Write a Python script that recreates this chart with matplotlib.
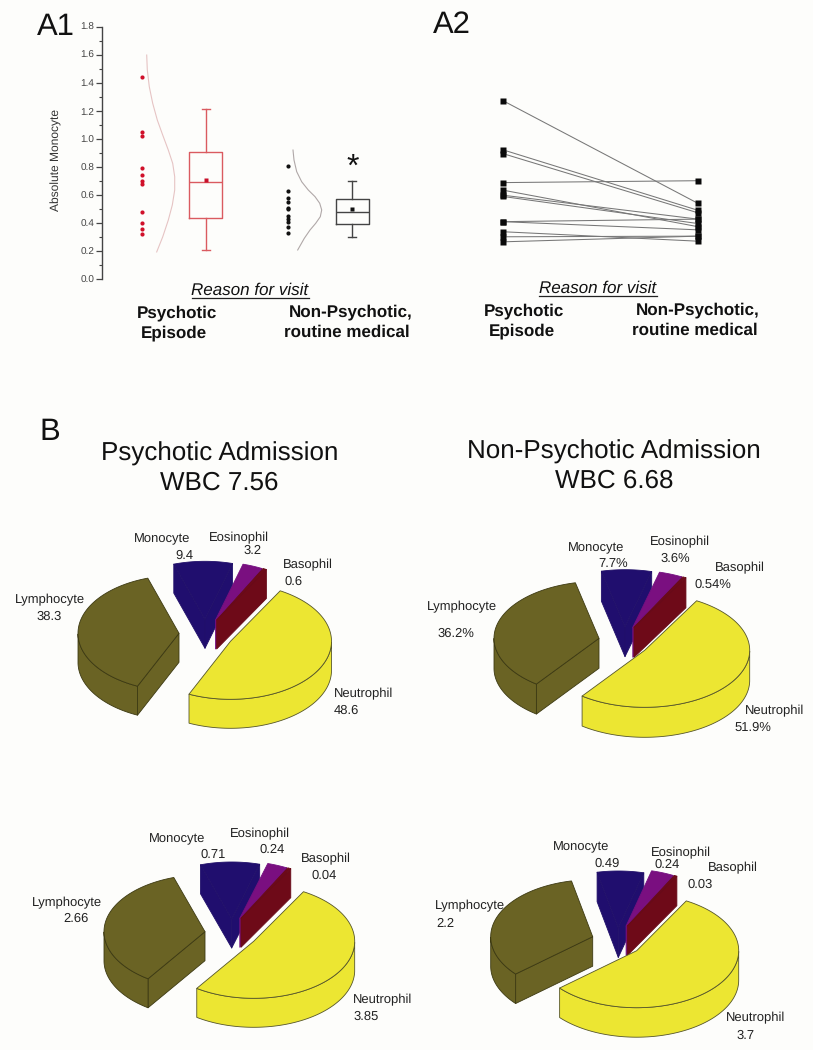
import numpy as np
import matplotlib
matplotlib.use("Agg")
import matplotlib.pyplot as plt
from matplotlib.patches import Polygon

plt.rcParams['font.family'] = ['Liberation Sans', 'DejaVu Sans']
plt.rcParams['text.hinting'] = 'no_hinting'
plt.rcParams['text.hinting_factor'] = 1

W, H = 813, 1050
BG = '#fdfdfb'

# ---------- data ----------
ytick_vals = [0.0, 0.2, 0.4, 0.6, 0.8, 1.0, 1.2, 1.4, 1.6, 1.8]
psych_points = [1.44, 1.05, 1.02, 0.79, 0.74, 0.70, 0.68, 0.48, 0.40, 0.36, 0.32]
nonpsych_points = [0.81, 0.63, 0.58, 0.55, 0.51, 0.50, 0.45, 0.43, 0.41, 0.37, 0.33]
psych_box = dict(whislo=0.21, q1=0.44, med=0.695, q3=0.91, whishi=1.21, mean=0.71, fliers=[])
nonpsych_box = dict(whislo=0.30, q1=0.395, med=0.48, q3=0.57, whishi=0.70, mean=0.50, fliers=[])
psych_curve_y = [1.598, 1.492, 1.372, 1.254, 1.135, 1.028, 0.921, 0.826, 0.731, 0.636, 0.529, 0.422, 0.302, 0.195]
psych_curve_x = [146.7, 147.3, 149.3, 152.7, 157.3, 162.7, 168.3, 172.7, 174.7, 174.7, 172.3, 168.3, 162.7, 156.7]
nonpsych_curve_y = [0.921, 0.850, 0.767, 0.695, 0.636, 0.589, 0.542, 0.494, 0.446, 0.399, 0.351, 0.292, 0.209]
nonpsych_curve_x = [293, 294, 296.7, 301.7, 308.3, 315, 319.7, 321.7, 320.3, 315.7, 310, 304.3, 297.7]

paired_psych = [1.44, 1.05, 1.02, 0.79, 0.73, 0.69, 0.68, 0.48, 0.48, 0.40, 0.36, 0.32]
paired_nonpsych = [0.625, 0.57, 0.55, 0.805, 0.44, 0.50, 0.465, 0.50, 0.415, 0.325, 0.365, 0.365]

cell_names = ['Neutrophil', 'Lymphocyte', 'Monocyte', 'Eosinophil', 'Basophil']
pct_psych = [48.6, 38.3, 9.4, 3.2, 0.6]
pct_nonpsych = [51.9, 36.2, 7.7, 3.6, 0.54]
abs_psych = [3.85, 2.66, 0.71, 0.24, 0.04]
abs_nonpsych = [3.7, 2.2, 0.49, 0.24, 0.03]
lab_pct_psych = ['48.6', '38.3', '9.4', '3.2', '0.6']
lab_pct_nonpsych = ['51.9%', '36.2%', '7.7%', '3.6%', '0.54%']
lab_abs_psych = ['3.85', '2.66', '0.71', '0.24', '0.04']
lab_abs_nonpsych = ['3.7', '2.2', '0.49', '0.24', '0.03']

# ---------- styles ----------
slice_colors = {'Neutrophil': '#ece632', 'Lymphocyte': '#6a6324', 'Monocyte': '#200e6e',
                'Eosinophil': '#7a0f80', 'Basophil': '#6e0a18'}
edge_colors = {'Neutrophil': '#55552a', 'Lymphocyte': '#3c3912', 'Monocyte': '#21106a',
               'Eosinophil': '#741080', 'Basophil': '#680a18'}
TXT = '#222222'

fig = plt.figure(figsize=(W / 100, H / 100), dpi=100, facecolor=BG)


def px_axes(x0, y0, x1, y1, **kw):
    return fig.add_axes([x0 / W, 1 - y1 / H, (x1 - x0) / W, (y1 - y0) / H], **kw)


# overlay in pixel coordinates for annotations and pies
ov = fig.add_axes([0, 0, 1, 1])
ov.set_xlim(0, W)
ov.set_ylim(H, 0)
ov.axis('off')

# ---------- A1 ----------
ax = px_axes(102, 26.7, 420, 279.3)
ax.patch.set_alpha(0)
ax.set_xlim(102, 420)
ax.set_ylim(0, 1.8)
for s in ['top', 'right', 'bottom']:
    ax.spines[s].set_visible(False)
ax.spines['left'].set_color('#444444')
ax.spines['left'].set_linewidth(1.0)
ax.set_xticks([])
ax.set_yticks(ytick_vals)
ax.set_yticklabels([f'{v:.1f}' for v in ytick_vals])
ax.set_yticks(np.arange(1, 18, 2) / 10, minor=True)
ax.tick_params(axis='y', which='major', length=4.2, width=0.9, color='#444444',
               labelsize=7, labelcolor='#444444', pad=1.5)
ax.tick_params(axis='y', which='minor', length=2.2, width=0.8, color='#444444')
ax.set_ylabel('Absolute Monocyte', fontsize=8.5, color='#333333', labelpad=4)
ax.yaxis.set_label_coords((62 - 102) / (420 - 102), (279.3 - 160) / (279.3 - 26.7))

ax.plot([141.7] * len(psych_points), psych_points, ls='', marker='o', ms=3.0,
        color='#d0102a', mec='none')
ax.plot([288.3] * len(nonpsych_points), nonpsych_points, ls='', marker='o', ms=3.0,
        color='#111111', mec='none')
ax.plot(psych_curve_x, psych_curve_y, color='#e6c4c4', lw=0.8)
ax.plot(nonpsych_curve_x, nonpsych_curve_y, color='#b0a8a8', lw=0.8)


def draw_box(stats, pos, col, mean_col):
    lp = dict(color=col, linewidth=1.0)
    ax.bxp([stats], positions=[pos], widths=[33], capwidths=[8], showmeans=True,
           showfliers=False, manage_ticks=False,
           boxprops=lp, whiskerprops=lp, capprops=lp, medianprops=lp,
           meanprops=dict(marker='s', markersize=2.6, markerfacecolor=mean_col,
                          markeredgecolor='none'))


draw_box(psych_box, 205.7, '#da5a60', '#c8102a')
draw_box(nonpsych_box, 352.3, '#444444', '#111111')
ax.text(352.3, 0.80, '*', fontsize=23, ha='center', va='center', color='#111111')

# ---------- A2 ----------
ax2 = px_axes(480, 90, 720, 250)
ax2.axis('off')
ax2.set_xlim(-23 / 195, 1 + 22 / 195)
ax2.set_ylim(1.44 - (250 - 100.7) / 126, 1.44 + (100.7 - 90) / 126)
for a, b in zip(paired_psych, paired_nonpsych):
    ax2.plot([0, 1], [a, b], color='#777777', lw=0.75, zorder=1)
ax2.plot([0] * len(paired_psych), paired_psych, ls='', marker='s', ms=4.0, color='#0a0a0a',
         mec='none', zorder=2)
ax2.plot([1] * len(paired_nonpsych), paired_nonpsych, ls='', marker='s', ms=4.0, color='#0a0a0a',
         mec='none', zorder=2)

# ---------- text ----------
for s, x, y in [('A1', 56, 27), ('A2', 452, 25), ('B', 50, 432)]:
    ov.text(x, y, s, fontsize=22.5, ha='center', va='center', color='#111111')

for x, y, x0, x1, yl in [(250, 290, 191.7, 309.3, 298), (598, 288, 539, 657, 296)]:
    ov.text(x, y, 'Reason for visit', fontsize=12.3, style='italic', ha='center', va='center',
            color='#111111')
    ov.plot([x0, x1], [yl, yl], color='#222222', lw=0.9)

for s, x, y in [('Psychotic', 176.7, 313), ('Episode', 174, 333),
                ('Non-Psychotic,', 350.5, 312), ('routine medical', 346.7, 332),
                ('Psychotic', 524.5, 311), ('Episode', 522, 331),
                ('Non-Psychotic,', 697.8, 310), ('routine medical', 694.5, 330)]:
    ov.text(x, y, s, fontsize=12.4, weight='bold', ha='center', va='center', color='#111111')

for s, x, y in [('Psychotic Admission', 219.5, 454), ('WBC 7.56', 219.5, 483),
                ('Non-Psychotic Admission', 614, 452), ('WBC 6.68', 614, 481)]:
    ov.text(x, y, s, fontsize=18.5, ha='center', va='center', color='#111111')


# ---------- pies ----------
def draw_pie(values, start, a, b, depth, apexes, labels, label_pos):
    """Exploded 3-D pie: clockwise from Monocyte in the order Monocyte, Eosinophil,
    Basophil, Neutrophil, Lymphocyte; wedge sizes come from the values."""
    total = sum(values)
    sweep = {n: v / total * 360 for n, v in zip(cell_names, values)}
    order = ['Monocyte', 'Eosinophil', 'Basophil', 'Neutrophil', 'Lymphocyte']
    theta = start
    spans = {}
    for n in order:
        spans[n] = (theta, theta - sweep[n])
        theta -= sweep[n]
    draw_order = ['Monocyte', 'Eosinophil', 'Basophil', 'Lymphocyte', 'Neutrophil']
    for n in draw_order:
        t0, t1 = spans[n]
        ax0, ay0 = apexes[n]
        fc, ec = slice_colors[n], edge_colors[n]
        kw = dict(facecolor=fc, edgecolor=ec, linewidth=0.6, joinstyle='round')
        th = np.radians(np.linspace(t0, t1, 160))
        ex = ax0 + a * np.cos(th)
        ey = ay0 - b * np.sin(th)
        # cut faces: visible when their outward normal faces the viewer (screen-down)
        for tt, inward in [(t0, -1), (t1, 1)]:
            px_, py_ = a * np.cos(np.radians(tt)), -b * np.sin(np.radians(tt))
            qx_, qy_ = (a * np.cos(np.radians(tt + inward * 0.5)),
                        -b * np.sin(np.radians(tt + inward * 0.5)))
            nx, ny = -py_, px_
            if nx * qx_ + ny * qy_ > 0:
                nx, ny = -nx, -ny
            if ny > 0:
                ov.add_patch(Polygon([(ax0, ay0), (ax0 + px_, ay0 + py_),
                                      (ax0 + px_, ay0 + py_ + depth), (ax0, ay0 + depth)],
                                     closed=True, **kw))
        # outer wall
        mask = np.sin(th) < 0
        if mask.any():
            wx, wy = ex[mask], ey[mask]
            ov.add_patch(Polygon(np.r_[np.c_[wx, wy], np.c_[wx[::-1], wy[::-1] + depth]],
                                 closed=True, **kw))
        # top
        ov.add_patch(Polygon(np.r_[[[ax0, ay0]], np.c_[ex, ey]], closed=True, **kw))
    for n, lab in zip(cell_names, labels):
        (nx_, ny_), (vx_, vy_) = label_pos[n]
        ov.text(nx_, ny_, n, fontsize=9.2, ha='center', va='center', color=TXT, zorder=5)
        ov.text(vx_, vy_, lab, fontsize=9.2, ha='center', va='center', color=TXT, zorder=5)


draw_pie(pct_psych, 108, 101, 58, 29,
         {'Neutrophil': (230.5, 641.3), 'Lymphocyte': (179, 633.3), 'Monocyte': (205, 619.3),
          'Eosinophil': (215.5, 620), 'Basophil': (216.7, 620)},
         lab_pct_psych,
         {'Lymphocyte': ((50, 600), (49, 616.7)), 'Monocyte': ((161.7, 539.3), (184, 555.7)),
          'Eosinophil': ((239, 537.7), (252.3, 550.7)), 'Basophil': ((308.3, 565), (294, 581.7)),
          'Neutrophil': ((363.3, 694), (346.7, 710.7))})

draw_pie(pct_nonpsych, 103, 105, 57, 30,
         {'Neutrophil': (644.7, 650.3), 'Lymphocyte': (599, 638.3), 'Monocyte': (625, 626.7),
          'Eosinophil': (632.8, 627.3), 'Basophil': (634, 627.3)},
         lab_pct_nonpsych,
         {'Lymphocyte': ((462.3, 606.7), (456, 633.3)), 'Monocyte': ((595.7, 547.7), (613.3, 563.3)),
          'Eosinophil': ((680, 542.3), (675, 559)), 'Basophil': ((740, 568.3), (712.7, 585)),
          'Neutrophil': ((774.3, 710.7), (752.7, 727.3))})

draw_pie(abs_psych, 108, 101, 57, 29,
         {'Neutrophil': (253.7, 941.3), 'Lymphocyte': (205, 931.7), 'Monocyte': (231.7, 919),
          'Eosinophil': (239.8, 918.3), 'Basophil': (241, 918.3)},
         lab_abs_psych,
         {'Lymphocyte': ((67.3, 902.7), (76, 919)), 'Monocyte': ((177.3, 839), (213.3, 855)),
          'Eosinophil': ((260, 834), (271.7, 850)), 'Basophil': ((326, 859.3), (324.3, 876)),
          'Neutrophil': ((382.7, 1000), (366, 1016.7))})

draw_pie(abs_nonpsych, 102, 102, 57, 29.5,
         {'Neutrophil': (636.7, 950.7), 'Lymphocyte': (592.7, 936.7), 'Monocyte': (618.3, 928),
          'Eosinophil': (626.1, 926), 'Basophil': (627.3, 926)},
         lab_abs_nonpsych,
         {'Lymphocyte': ((470, 905.7), (445, 923.3)), 'Monocyte': ((580.7, 847.3), (606.7, 864)),
          'Eosinophil': ((681, 852.7), (666.7, 865)), 'Basophil': ((732.7, 868.3), (700, 884.3)),
          'Neutrophil': ((756, 1018.3), (745.7, 1035.7))})

fig.savefig('out.png', dpi=100, facecolor=BG)
